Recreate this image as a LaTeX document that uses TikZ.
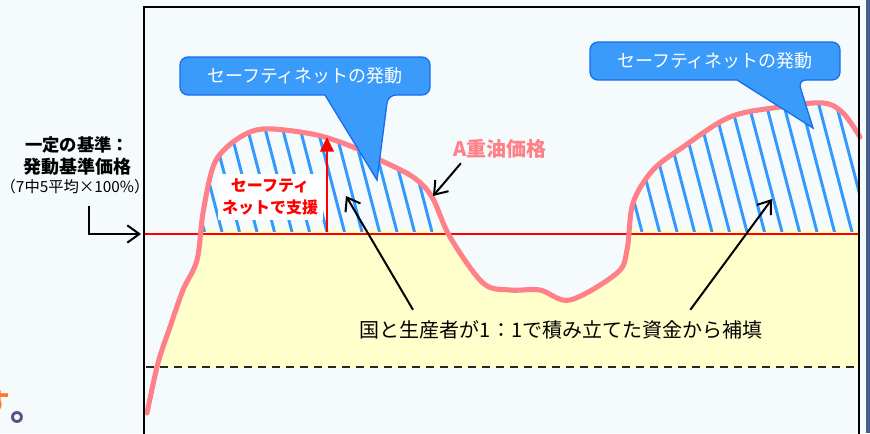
\documentclass[tikz,border=0pt]{standalone}
\usepackage{fontspec}
\setmainfont{Noto Sans CJK JP}
\usetikzlibrary{arrows.meta}

\definecolor{bgcol}{RGB}{245,251,252}
\definecolor{pinkline}{RGB}{255,128,136}
\definecolor{hatchblue}{RGB}{51,153,255}
\definecolor{calloutblue}{RGB}{59,155,250}
\definecolor{calloutedge}{RGB}{25,110,235}
\definecolor{fundyellow}{RGB}{255,255,204}
\definecolor{stripblue}{RGB}{70,95,140}
\definecolor{textorange}{RGB}{255,120,30}
\definecolor{textpurple}{RGB}{95,75,135}

\tikzset{
  callout/.style={fill=calloutblue, draw=calloutedge, line width=1pt},
  callouttext/.style={text=white, inner sep=0pt, font=\fontsize{13.5}{16}\selectfont},
  pointer/.style={-{Straight Barb[length=9pt,width=13pt,line width=1.5pt]}, line width=1.5pt},
}
\newcommand{\pricecurve}{plot[smooth, tension=0.55] coordinates {(147,413) (158,363) (170,327) (183,290) (197,260) (203,213) (213,167) (227,147) (250,132) (273,129) (317,135) (353,147) (380,160) (413,177) (432,197) (450,237) (483,283) (510,290) (540,290) (570,300) (617,273) (627,250) (633,203) (653,170) (683,147) (730,117) (780,107) (823,103) (843,113) (860,137)}}

\begin{document}
\begin{tikzpicture}[x=0.75pt, y=-0.75pt]
\useasboundingbox (0,0) rectangle (870,433);
\fill[bgcol] (0,0) rectangle (870,433);
\fill[stripblue] (866,0) rectangle (870,433); % right edge

% fund area below the base price
\begin{scope}
\clip \pricecurve -- (864,137) -- (864,430) -- (147,430) -- cycle;
\fill[fundyellow] (144,229) rectangle (859,368);
\end{scope}

% hatching above the base price
\begin{scope}
\clip \pricecurve -- (864,137) -- (864,430) -- (147,430) -- cycle;
\clip (144,0) rectangle (859,231);
\foreach \x in {150,167.5,...,900}
  \draw[hatchblue, line width=2.2pt] (\x,90) -- ({\x+37},232);
\end{scope}

\draw[red, line width=1.8pt] (144,234) -- (859,234); % base price
\draw[black!85, line width=1.1pt, dash pattern=on 6pt off 4.5pt] (146,367) -- (859,367);
\draw[pinkline, line width=3.8pt, line cap=round] \pricecurve; % price

\node[fill=white, text=red, align=center, minimum width=78.75pt, minimum height=35pt, inner sep=1pt,
  font=\bfseries\fontsize{12}{16.5}\selectfont] (support) at (270,197) {セーフティ\\ネットで支援};
\coordinate (arrowbase) at (327,232);
\coordinate (arrowtop) at (327,137);
\draw[red, line width=2.2pt, -{Triangle[length=11pt,width=10pt]}] (arrowbase) -- (arrowtop);

% callouts
\draw[callout] (305,57) [rounded corners=6pt] -- (430,57) -- (430,95) -- (388,95) [sharp corners] -- (377,180) -- (325,95) [rounded corners=6pt] -- (180,95) -- (180,57) -- cycle;
\node[callouttext] (alert1) at (305,76) {セーフティネットの発動};
\draw[callout] (715,42) [rounded corners=6pt] -- (840,42) -- (840,80) -- (798,80) [sharp corners] -- (813,128) -- (737,80) [rounded corners=6pt] -- (590,80) -- (590,42) -- cycle;
\node[callouttext] (alert2) at (715,61) {セーフティネットの発動};

% labels
\node[text=pinkline, font=\bfseries\fontsize{15}{17}\selectfont] (heavyoil) at (500,149) {A重油価格};
\coordinate (oilpt) at (433,196);
\draw[pointer] (heavyoil.200) -- (oilpt);

\node[font=\fontsize{15}{18}\selectfont, inner sep=2pt] (fund) at (561,330) {国と生産者が1：1で積み立てた資金から補填};
\coordinate (leftfund) at (346,196);
\coordinate (rightfund) at (772,199);
\draw[pointer] ([xshift=-111pt, yshift=6pt]fund.north) -- (leftfund);
\draw[pointer] ([xshift=97pt, yshift=6pt]fund.north) -- (rightfund);

\node[font=\bfseries\fontsize{13}{15}\selectfont] (stdlbl) at (77,145) {一定の基準：};
\node[font=\bfseries\fontsize{13.5}{15}\selectfont] (trigprice) at (77,167) {発動基準価格};
\node[font=\fontsize{11.5}{13}\selectfont] (avglbl) at (75,187) {（7中5平均×100\%）};
\coordinate (basept) at (141,234);
\draw[pointer] ([xshift=10.5pt, yshift=-5pt]avglbl.south) |- (basept);

% text cut at the left edge
\node[text=textorange, font=\bfseries\fontsize{20}{22}\selectfont, anchor=base west, inner sep=0pt] (endchar) at (-17,412) {す};
\node[text=textpurple, font=\bfseries\fontsize{27}{29}\selectfont, anchor=base west, inner sep=0pt] (endmark) at (10,420) {。};

\draw[line width=1.5pt] (144,440) -- (144,7) -- (859,7) -- (859,440); % frame
\end{tikzpicture}
\end{document}
